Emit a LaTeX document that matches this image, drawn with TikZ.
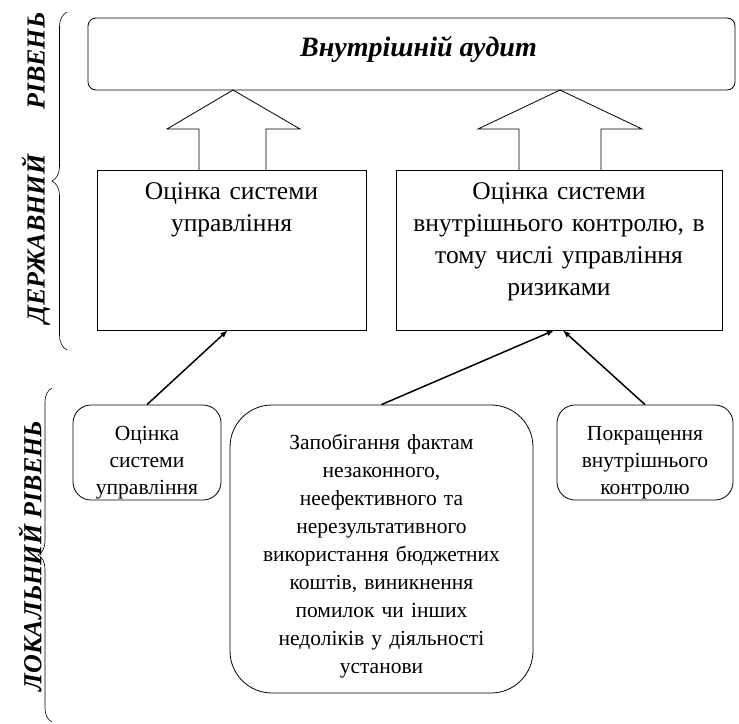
\documentclass[tikz,border=0pt]{standalone}
\usepackage{fontspec}
\setmainfont{Liberation Serif}
\usetikzlibrary{decorations.pathreplacing}

\begin{document}
\begin{tikzpicture}[x=1pt,y=1pt,yscale=-1,xscale=1,
  govbox/.style={draw, line width=0.8pt, align=center, inner sep=3pt, font=\fontsize{25.5}{32}\selectfont, text height=26pt, text depth=128pt},
  localbox/.style={draw, line width=0.8pt, align=center, inner sep=3pt, font=\fontsize{21.5}{27}\selectfont},
  levellabel/.style={rotate=90, inner sep=0pt, font=\fontsize{26}{30}\selectfont\bfseries\itshape},
  linkarrow/.style={-latex, line width=1.5pt},
  blockarrow/.style={line width=0.8pt},
  levelbrace/.style={decorate, line width=0.6pt}]
\useasboundingbox (0,0) rectangle (739,723);

%Shape: Rounded Rect [audit]
\node (audit) [draw, line width=0.8pt, rounded corners=8pt, minimum width=647pt, minimum height=72pt, text height=19pt, text depth=14pt, font=\fontsize{28}{32}\selectfont\bfseries\itshape] at (411.5,54) {\hspace{14pt}Внутрішній аудит};

%Shape: Rectangle [government level]
\node (govL) [govbox, text width=263pt] at (231.5,250) {Оцінка системи\\ управління};
\node (govR) [govbox, text width=320pt] at (559,250) {Оцінка системи\\ внутрішнього контролю, в\\ тому числі управління\\ ризиками};

%Shape: Up Arrow
\draw [blockarrow] (199,170) -- (199,129) -- (167,129) -- (233,90) -- (300,129) -- (266,129) -- (266,170);
%Shape: Up Arrow
\draw [blockarrow] (519,170) -- (519,129) -- (478,129) -- (560,90) -- (642,129) -- (601,129) -- (601,170);

%Shape: Rounded Rect [local level]
\node (locL) [localbox, rounded corners=18pt, text width=142pt, text height=32pt, text depth=57pt] at (147,452.5) {Оцінка\\ системи\\ управління};
\node (locM) [localbox, rounded corners=42pt, text width=297pt, text height=41pt, text depth=241pt, font=\fontsize{21.5}{28}\selectfont] at (381.5,549) {Запобігання фактам\\ незаконного,\\ неефективного та\\ нерезультативного\\ використання бюджетних\\ коштів, виникнення\\ помилок чи інших\\ недоліків у діяльності\\ установи};
\node (locR) [localbox, rounded corners=18pt, text width=170pt, text height=32pt, text depth=57pt] at (645,452.5) {Покращення\\ внутрішнього\\ контролю};

%Straight Lines
\draw [linkarrow] (locL.north) -- ([xshift=-4pt]govL.south);
\draw [linkarrow] (locM.north) -- ([xshift=-5pt]govR.south);
\draw [linkarrow] (locR.north) -- ([xshift=4pt]govR.south);

%Braces
\draw [levelbrace, decoration={brace, amplitude=15pt}] (67,350) -- (67,12);
\draw [levelbrace, decoration={brace, amplitude=14pt}] (52,722) -- (52,388);

% Text Node
\node (govlabel) [levellabel] at (36,168) {ДЕРЖАВНИЙ\hspace{45pt}РІВЕНЬ};
% Text Node
\node (loclabel) [levellabel] at (30,556) {ЛОКАЛЬНИЙ РІВЕНЬ};

\end{tikzpicture}
\end{document}
